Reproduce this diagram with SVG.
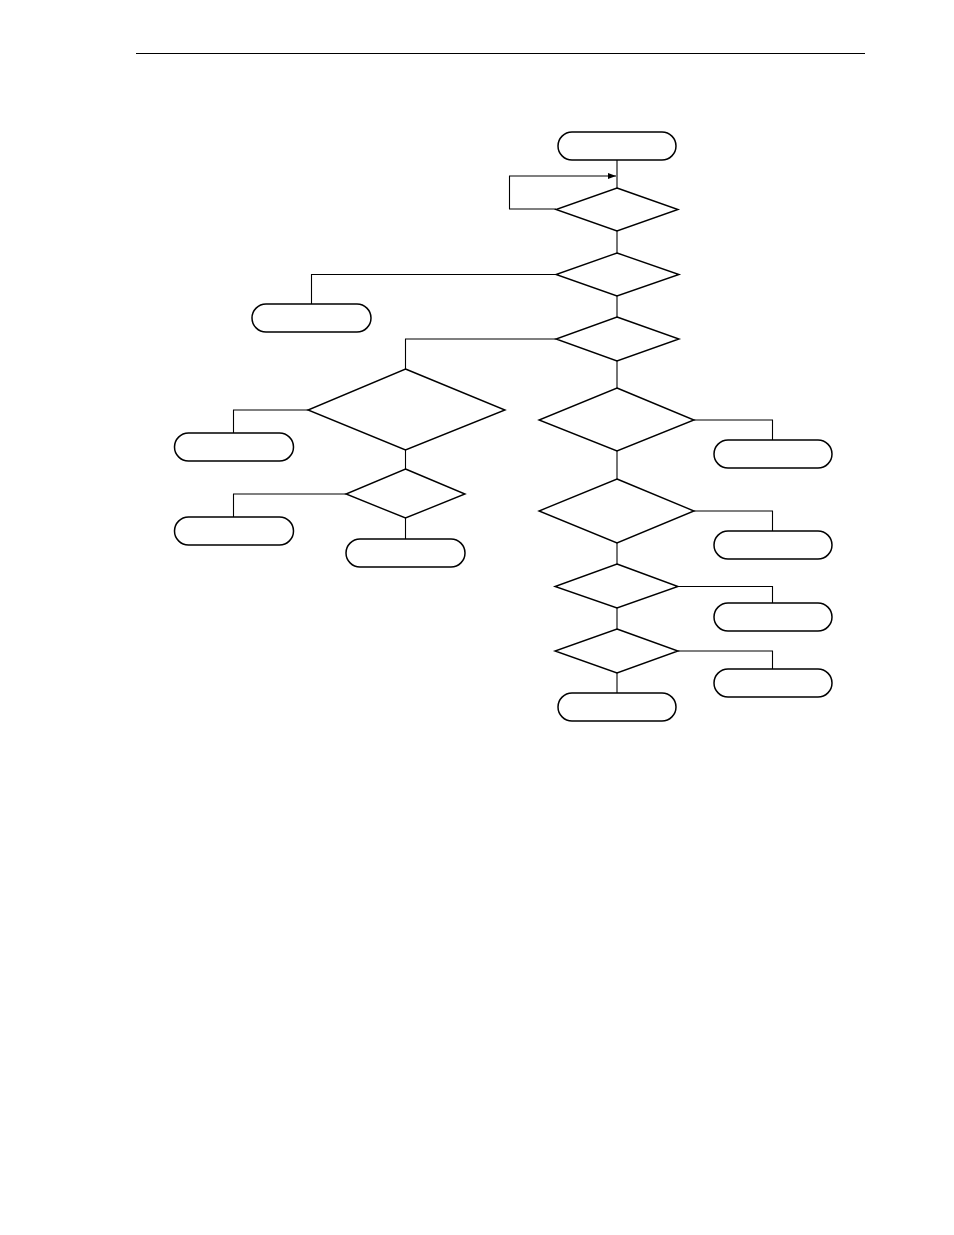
<svg xmlns="http://www.w3.org/2000/svg" width="954" height="1235" viewBox="0 0 954 1235">
<style>
.term{fill:#fff;stroke:#000;stroke-width:1.5}
.dec{fill:#fff;stroke:#000;stroke-width:1.4}
.conn{fill:none;stroke:#000;stroke-width:1.1}
</style>
<defs>
<marker id="arr" markerWidth="8" markerHeight="6" refX="8" refY="3" orient="auto" markerUnits="userSpaceOnUse">
<path d="M0,0 L8,3 L0,6 z" fill="#000"/>
</marker>
</defs>
<rect width="954" height="1235" fill="#fff"/>
<line x1="136" y1="53.5" x2="865" y2="53.5" stroke="#000" stroke-width="1.2"/>
<g id="connectors">
<path class="conn" d="M617,160 V188"/>
<path class="conn" d="M556,209 H509.5 V176 H616" marker-end="url(#arr)"/>
<path class="conn" d="M617,231 V253"/>
<path class="conn" d="M556,274.5 H311.5 V304"/>
<path class="conn" d="M617,296 V317"/>
<path class="conn" d="M556,339 H405.5 V369"/>
<path class="conn" d="M308,410 H233.5 V433"/>
<path class="conn" d="M405.5,450 V469"/>
<path class="conn" d="M346,494 H233.5 V517"/>
<path class="conn" d="M405.5,518 V539"/>
<path class="conn" d="M617,361 V388"/>
<path class="conn" d="M694,420 H772.5 V440"/>
<path class="conn" d="M617,451 V479"/>
<path class="conn" d="M694,511 H772.5 V531"/>
<path class="conn" d="M617,543 V564"/>
<path class="conn" d="M678,586.5 H772.5 V603"/>
<path class="conn" d="M617,608 V629"/>
<path class="conn" d="M678,651 H772.5 V669"/>
<path class="conn" d="M617,673 V693"/>
</g>
<g id="start"><rect class="term" x="558" y="132" width="118" height="28" rx="14"/></g>
<g id="d1"><polygon class="dec" points="617,188 678,209.5 617,231 556,209.5"/></g>
<g id="d2"><polygon class="dec" points="617,253 679,274.5 617,296 556,274.5"/></g>
<g id="t_d2"><rect class="term" x="252" y="304" width="119" height="28" rx="14"/></g>
<g id="d3"><polygon class="dec" points="617,317 679,339 617,361 556,339"/></g>
<g id="d4"><polygon class="dec" points="405.5,369 505,410 405.5,450 308,410"/></g>
<g id="t_d4"><rect class="term" x="174.5" y="433" width="119" height="28" rx="14"/></g>
<g id="d5"><polygon class="dec" points="405.5,469 465,494 405.5,518 346,494"/></g>
<g id="t_d5_left"><rect class="term" x="174.5" y="517" width="119" height="28" rx="14"/></g>
<g id="t_d5_bottom"><rect class="term" x="346" y="539" width="119" height="28" rx="14"/></g>
<g id="d6"><polygon class="dec" points="617,388 694,420 617,451 539,420"/></g>
<g id="t_d6"><rect class="term" x="714" y="440" width="118" height="28" rx="14"/></g>
<g id="d7"><polygon class="dec" points="617,479 694,511 617,543 539,511"/></g>
<g id="t_d7"><rect class="term" x="714" y="531" width="118" height="28" rx="14"/></g>
<g id="d8"><polygon class="dec" points="617,564 678,586.5 617,608 555,586.5"/></g>
<g id="t_d8"><rect class="term" x="714" y="603" width="118" height="28" rx="14"/></g>
<g id="d9"><polygon class="dec" points="617,629 678,651 617,673 555,651"/></g>
<g id="t_d9"><rect class="term" x="714" y="669" width="118" height="28" rx="14"/></g>
<g id="end"><rect class="term" x="558" y="693" width="118" height="28" rx="14"/></g>
</svg>
